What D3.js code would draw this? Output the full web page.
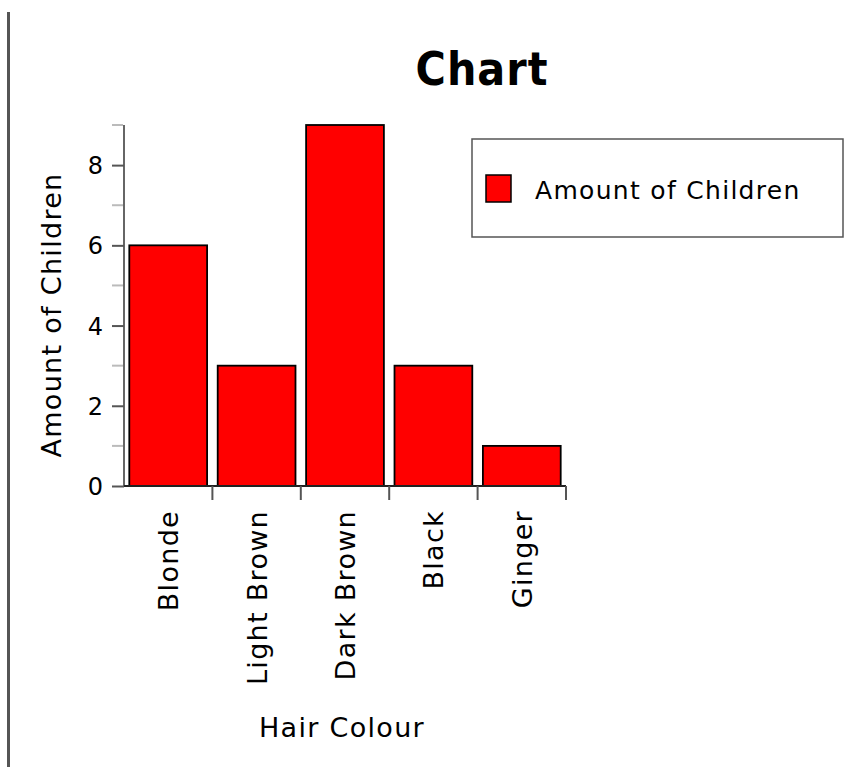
<!DOCTYPE html>
<html>
<head>
<meta charset="utf-8">
<script src="https://cdn.jsdelivr.net/npm/d3@7"></script>
<style>
  html, body { margin: 0; padding: 0; background: #fff; }
  svg { display: block; }
  text { font-family: "DejaVu Sans", "Noto Sans", sans-serif; fill: #000; }
</style>
</head>
<body>
<svg id="chart" width="854" height="767"></svg>
<script>
const categories = ["Blonde", "Light Brown", "Dark Brown", "Black", "Ginger"];
const values = [6, 3, 9, 3, 1];
const majorTicks = [0, 2, 4, 6, 8];
const minorTicks = [1, 3, 5, 7, 9];
const seriesName = "Amount of Children";
const titleText = "Chart";
const xTitle = "Hair Colour";
const yTitle = "Amount of Children";

const svg = d3.select("#chart");

// left border line
svg.append("line")
  .attr("x1", 8.5).attr("x2", 8.5).attr("y1", 12).attr("y2", 767)
  .attr("stroke", "#555").attr("stroke-width", 3);

const x = d3.scaleBand().domain(categories).range([124, 566])
  .paddingInner(0.12).paddingOuter(0.06);
const y = d3.scaleLinear().domain([0, 9]).range([486, 125]);

// title
svg.append("text").attr("x", 482).attr("y", 85)
  .attr("text-anchor", "middle")
  .style("font-family", "'DejaVu Sans Condensed', 'DejaVu Sans', sans-serif")
  .style("font-weight", "bold").style("font-size", "46px")
  .style("letter-spacing", "1px")
  .text(titleText);

// minor ticks
svg.append("g").selectAll("line").data(minorTicks).join("line")
  .attr("x1", 112).attr("x2", 123)
  .attr("y1", d => y(d)).attr("y2", d => y(d))
  .attr("stroke", "#bbb").attr("stroke-width", 2);

// y axis
const yAxis = svg.append("g").attr("transform", "translate(124,0)")
  .call(d3.axisLeft(y).tickValues(majorTicks).tickSize(12).tickPadding(9).tickFormat(d3.format("d")));
yAxis.select(".domain").attr("stroke", "#666").attr("stroke-width", 2)
  .attr("d", `M0,${y(9)}V${y(0)}`);
yAxis.selectAll(".tick line").attr("stroke", "#555").attr("stroke-width", 2);
yAxis.selectAll(".tick text").style("font-size", "24px").attr("dy", "0.36em");

// bars
svg.append("g").selectAll("rect").data(values).join("rect")
  .attr("x", (d, i) => x(categories[i]))
  .attr("width", x.bandwidth())
  .attr("y", d => y(d))
  .attr("height", d => y(0) - y(d))
  .attr("fill", "#ff0000")
  .attr("stroke", "#000").attr("stroke-width", 1.8);

// x axis line and boundary ticks
svg.append("line")
  .attr("x1", x.range()[0]).attr("x2", x.range()[1])
  .attr("y1", y(0)).attr("y2", y(0))
  .attr("stroke", "#222").attr("stroke-width", 2);
const bounds = d3.range(1, categories.length + 1).map(i => x.range()[0] + i * x.step());
svg.append("g").selectAll("line").data(bounds).join("line")
  .attr("x1", d => d).attr("x2", d => d)
  .attr("y1", y(0)).attr("y2", y(0) + 14)
  .attr("stroke", "#555").attr("stroke-width", 2);

// x labels
svg.append("g").selectAll("text").data(categories).join("text")
  .attr("transform", d => `translate(${x(d) + x.bandwidth() / 2 + 10},510) rotate(-90)`)
  .attr("text-anchor", "end")
  .style("font-size", "27px").style("letter-spacing", "1.3px")
  .text(d => d);

// axis titles
svg.append("text").attr("x", 342).attr("y", 737)
  .attr("text-anchor", "middle")
  .style("font-size", "27px").style("letter-spacing", "1.3px")
  .text(xTitle);
svg.append("text")
  .attr("transform", "translate(61,315) rotate(-90)")
  .attr("text-anchor", "middle")
  .style("font-size", "27px").style("letter-spacing", "1.3px")
  .text(yTitle);

// legend
svg.append("rect").attr("x", 472).attr("y", 139).attr("width", 371).attr("height", 98)
  .attr("fill", "#fff").attr("stroke", "#555").attr("stroke-width", 1.5);
svg.append("rect").attr("x", 486).attr("y", 175).attr("width", 25).attr("height", 27)
  .attr("fill", "#ff0000").attr("stroke", "#000").attr("stroke-width", 1.5);
svg.append("text").attr("x", 535).attr("y", 199)
  .style("font-size", "25px").style("letter-spacing", "1.3px")
  .text(seriesName);
</script>
</body>
</html>
